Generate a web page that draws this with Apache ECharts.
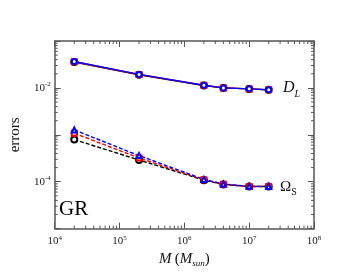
<!DOCTYPE html>
<html><head><meta charset="utf-8">
<script src="https://cdn.jsdelivr.net/npm/echarts@6/dist/echarts.min.js"></script>
<style>html,body{margin:0;padding:0;background:#fff}#c{width:353px;height:273px}</style>
</head><body><div id="c"></div>
<script>
var masses = [2e4, 2e5, 2e6, 4e6, 1e7, 2e7];
var dlBlack = [0.0355, 0.0190, 0.0112, 0.0100, 0.00953, 0.00909];
var dlRed   = [0.0362, 0.0193, 0.0114, 0.0100, 0.00953, 0.00909];
var dlBlue  = [0.0366, 0.0194, 0.0114, 0.0100, 0.00955, 0.00910];
var omBlack = [7.9e-4, 2.9e-4, 1.08e-4, 8.7e-5, 7.9e-5, 7.9e-5];
var omRed   = [1.08e-3, 3.2e-4, 1.10e-4, 8.8e-5, 7.9e-5, 7.9e-5];
var omBlue  = [1.27e-3, 3.6e-4, 1.12e-4, 8.9e-5, 8.0e-5, 7.9e-5];
var xMin = 1e4, xMax = 1e8, yMin = 1e-5, yMax = 1e-1;
var yLabelExps = [-2, -4];
var mult = [2,3,4,5,6,7,8,9];

var xMinor = [], yMinor = [];
for (var e = 4; e < 8; e++) mult.forEach(function(m){ xMinor.push(m*Math.pow(10,e)); });
for (var e2 = -5; e2 < -1; e2++) mult.forEach(function(m){ yMinor.push(m*Math.pow(10,e2)); });

var serif = 'Liberation Serif';
var axisColor = '#555';
function pairs(ys){ return masses.map(function(x,i){ return [x, ys[i]]; }); }
function xFmt(v){ var e = Math.round(Math.log10(v)); return '{b|10}{s|' + e + '}'; }
function yFmt(v){ var e = Math.round(Math.log10(v)); return yLabelExps.indexOf(e) >= 0 ? '{b|10}{s|' + e + '}' : ''; }
var rich = { b:{fontFamily:serif,fontSize:11,color:'#222'}, s:{fontFamily:serif,fontSize:7,color:'#222',padding:[0,0,7,0]} };

function axisBase(){
  return {
    axisLine:{show:true,onZero:false,lineStyle:{color:axisColor,width:1.5}},
    axisTick:{show:true,inside:true,length:6,lineStyle:{color:axisColor,width:1}},
    splitLine:{show:false}
  };
}
var xa = Object.assign(axisBase(), {type:'log',logBase:10,min:xMin,max:xMax,position:'bottom',
  axisLabel:{formatter:xFmt,rich:rich,margin:6},
  name:'{i|M} {n|(}{i|M}{sub|sun}{n|)}', nameLocation:'middle', nameGap:22,
  nameTextStyle:{rich:{i:{fontFamily:serif,fontStyle:'italic',fontSize:15,color:'#111'},n:{fontFamily:serif,fontSize:15,color:'#111'},sub:{fontFamily:serif,fontStyle:'italic',fontSize:9,color:'#111',padding:[8,0,0,0]}}}
});
var xa2 = Object.assign(axisBase(), {type:'log',logBase:10,min:xMin,max:xMax,position:'top',axisLabel:{show:false}});
var ya = Object.assign(axisBase(), {type:'log',logBase:10,min:yMin,max:yMax,position:'left',
  axisLabel:{formatter:yFmt,rich:rich,margin:4},
  name:'errors', nameLocation:'middle', nameGap:20, nameRotate:90,
  nameTextStyle:{fontFamily:serif,fontSize:15,color:'#111',padding:[0,0,8,0]}
});
var ya2 = Object.assign(axisBase(), {type:'log',logBase:10,min:yMin,max:yMax,position:'right',axisLabel:{show:false}});

function lineSeries(name, data, color, symbol, dashed, size){
  return {name:name,type:'line',data:pairs(data),xAxisIndex:0,yAxisIndex:0,
    symbol:symbol,symbolSize:size,showAllSymbol:true,
    itemStyle:{color:color,borderColor:color,borderWidth:1.3},
    lineStyle:{color:color,width:1.4,type:dashed?[4,2]:'solid'},
    emphasis:{disabled:true},z:3};
}

var minorSeries = {
  type:'custom', xAxisIndex:0, yAxisIndex:0, silent:true, clip:false, z:4,
  data: xMinor.map(function(v){return {value:[v,0]};}).concat(yMinor.map(function(v){return {value:[0,v]};})),
  renderItem: function(params, api){
    var a = api.value(0), b0 = api.value(1);
    var L = 3, st = {stroke:axisColor, lineWidth:1};
    if (a > 0){
      var b = api.coord([a, yMin]), t = api.coord([a, yMax]);
      return {type:'group',children:[
        {type:'line',shape:{x1:b[0],y1:b[1],x2:b[0],y2:b[1]-L},style:st},
        {type:'line',shape:{x1:t[0],y1:t[1],x2:t[0],y2:t[1]+L},style:st}]};
    } else {
      var l = api.coord([xMin, b0]), r = api.coord([xMax, b0]);
      return {type:'group',children:[
        {type:'line',shape:{x1:l[0],y1:l[1],x2:l[0]+L,y2:l[1]},style:st},
        {type:'line',shape:{x1:r[0],y1:r[1],x2:r[0]-L,y2:r[1]},style:st}]};
    }
  }
};

var chart = echarts.init(document.getElementById('c'), null, {renderer:'canvas'});
chart.setOption({
  animation:false,
  backgroundColor:'#fff',
  grid:{left:41,right:39,top:41,bottom:42,containLabel:false},
  xAxis:[xa, xa2],
  yAxis:[ya, ya2],
  series:[
    lineSeries('DL black', dlBlack, '#000', 'emptyCircle', false, 6),
    lineSeries('DL red', dlRed, '#ff0000', 'emptyRect', false, 5),
    lineSeries('DL blue', dlBlue, '#0000ff', 'emptyCircle', false, 5),
    lineSeries('OS black', omBlack, '#000', 'emptyCircle', true, 6),
    lineSeries('OS red', omRed, '#ff0000', 'emptyRect', true, 5),
    lineSeries('OS blue', omBlue, '#0000ff', 'emptyTriangle', true, 5),
    minorSeries
  ],
  graphic:[
    {type:'text',left:283,top:80,style:{text:'{i|D}{sub|L}',rich:{i:{fontFamily:serif,fontStyle:'italic',fontSize:16,fill:'#111'},sub:{fontFamily:serif,fontStyle:'italic',fontSize:10,fill:'#111',padding:[12,0,0,0]}}}},
    {type:'text',left:280,top:180,style:{text:'{i|Ω}{sub|S}',rich:{i:{fontFamily:serif,fontSize:15,fill:'#111'},sub:{fontFamily:serif,fontSize:10,fill:'#111',padding:[10,0,0,0]}}}},
    {type:'text',left:59,top:199,style:{text:'GR',font:'21px "Liberation Serif"',fill:'#000'}}
  ]
});
</script></body></html>
